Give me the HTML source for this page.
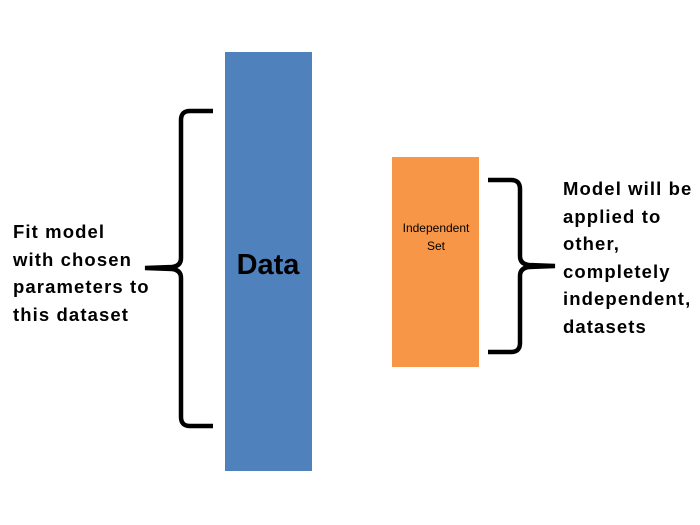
<!DOCTYPE html>
<html><head><style>
body{margin:0;width:700px;height:525px;background:#fff;position:relative;overflow:hidden;font-family:"Liberation Sans",sans-serif}
.t{position:absolute;font-weight:bold;color:#000;font-size:18.5px;line-height:27.5px;letter-spacing:1.1px;white-space:nowrap}
</style></head><body>
<svg width="700" height="525" style="position:absolute;left:0;top:0">
<rect x="225" y="52" width="87" height="419" fill="#4f81bd"/>
<rect x="392" y="157" width="87" height="210" fill="#f79646"/>
<path d="M213,111 L190,111 Q181,111 181,120 L181,258 Q181,266 172,267 L145,268 L172,269 Q181,270 181,278 L181,417 Q181,426 190,426 L213,426" fill="none" stroke="#000" stroke-width="4.5"/>
<path d="M488,180 L511,180 Q520,180 520,189 L520,256 Q520,264 529,265 L555,266 L529,267 Q520,268 520,276 L520,343 Q520,352 511,352 L488,352" fill="none" stroke="#000" stroke-width="4.5"/>
<text x="268" y="274" text-anchor="middle" font-family="Liberation Sans, sans-serif" font-weight="bold" font-size="29">Data</text>
<text x="436" y="232" text-anchor="middle" font-family="Liberation Sans, sans-serif" font-size="12">Independent</text>
<text x="436" y="250" text-anchor="middle" font-family="Liberation Sans, sans-serif" font-size="12">Set</text>
</svg>
<div class="t" style="left:13px;top:218px">Fit model<br>with chosen<br>parameters to<br>this dataset</div>
<div class="t" style="left:563px;top:175px">Model will be<br>applied to<br>other,<br>completely<br>independent,<br>datasets</div>
</body></html>
